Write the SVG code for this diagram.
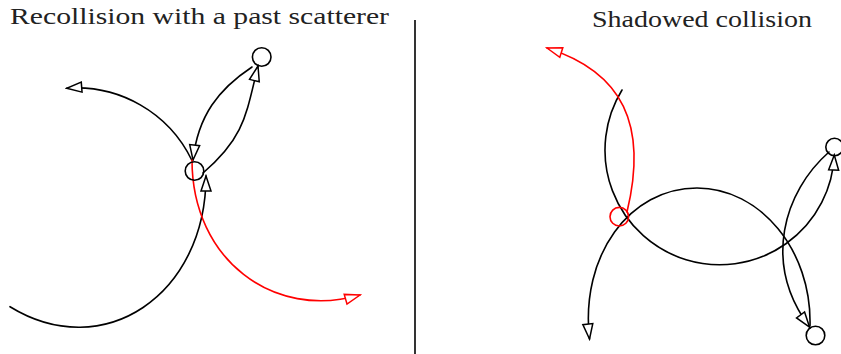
<svg xmlns="http://www.w3.org/2000/svg" width="841" height="354" viewBox="0 0 841 354">
<style>
.t{font-family:"Liberation Serif","DejaVu Serif",serif;font-size:23.5px;fill:#222}
.c{fill:none;stroke-width:1.6;stroke-linecap:round}
.k{stroke:#000}
.r{stroke:#f00}
.n{fill:none;stroke-width:1.6}
</style>
<defs>
<marker id="ak" viewBox="-17 -7 19 14" refX="0" refY="0" markerWidth="19" markerHeight="14" markerUnits="userSpaceOnUse" orient="auto">
<path d="M0,0 L-15,-5 L-15,5 Z" fill="#fff" stroke="#000" stroke-width="1.5" stroke-linejoin="miter"/>
</marker>
<marker id="ar" viewBox="-17 -7 19 14" refX="0" refY="0" markerWidth="19" markerHeight="14" markerUnits="userSpaceOnUse" orient="auto">
<path d="M0,0 L-15,-5 L-15,5 Z" fill="#fff" stroke="#f00" stroke-width="1.5" stroke-linejoin="miter"/>
</marker>
</defs>
<rect width="841" height="354" fill="#fff"/>
<text class="t" x="10" y="24" textLength="379" lengthAdjust="spacingAndGlyphs">Recollision with a past scatterer</text>
<text class="t" x="592" y="27" textLength="220" lengthAdjust="spacingAndGlyphs">Shadowed collision</text>
<line x1="415" y1="20" x2="415" y2="354" stroke="#000" stroke-width="1.6"/>
<g id="connectors">
<path class="c k" d="M10,306.7 C103.5,364 206,295 206,176" marker-end="url(#ak)"/>
<path class="c k" d="M203,173 C244.8,137.3 246,114.5 258,66" marker-end="url(#ak)"/>
<path class="c k" d="M252,67 C218.8,89 198,115.5 193,160" marker-end="url(#ak)"/>
<path class="c k" d="M191.7,160 A128,128 0 0 0 66.7,88.3" marker-end="url(#ak)"/>
<path class="c r" d="M192,160 C192,260 273.6,320.2 360,295" marker-end="url(#ar)"/>
<path class="c k" d="M622,90 A114.7,114.7 0 1 0 834.3,155" marker-end="url(#ak)"/>
<path class="c k" d="M810,326 C812,250 760,188 697,188 C630,188 580,255 589.5,339" marker-end="url(#ak)"/>
<path class="c k" d="M829,152 C784,191.6 762,263 809.5,327" marker-end="url(#ak)"/>
<path class="c r" d="M627,212 C648,125 623,72 547,48" marker-end="url(#ar)"/>
</g>
<g id="scatterer-past"><circle class="n k" cx="261.7" cy="57" r="9.3"/></g>
<g id="scatterer-recollision"><circle class="n k" cx="194.5" cy="171" r="9.3"/></g>
<g id="scatterer-shadowed"><circle class="n r" cx="619.3" cy="216.7" r="9.3"/></g>
<g id="scatterer-top-right"><circle class="n k" cx="834.5" cy="147" r="8.7"/></g>
<g id="scatterer-bottom-right"><circle class="n k" cx="815.5" cy="335.5" r="9.3"/></g>
</svg>
